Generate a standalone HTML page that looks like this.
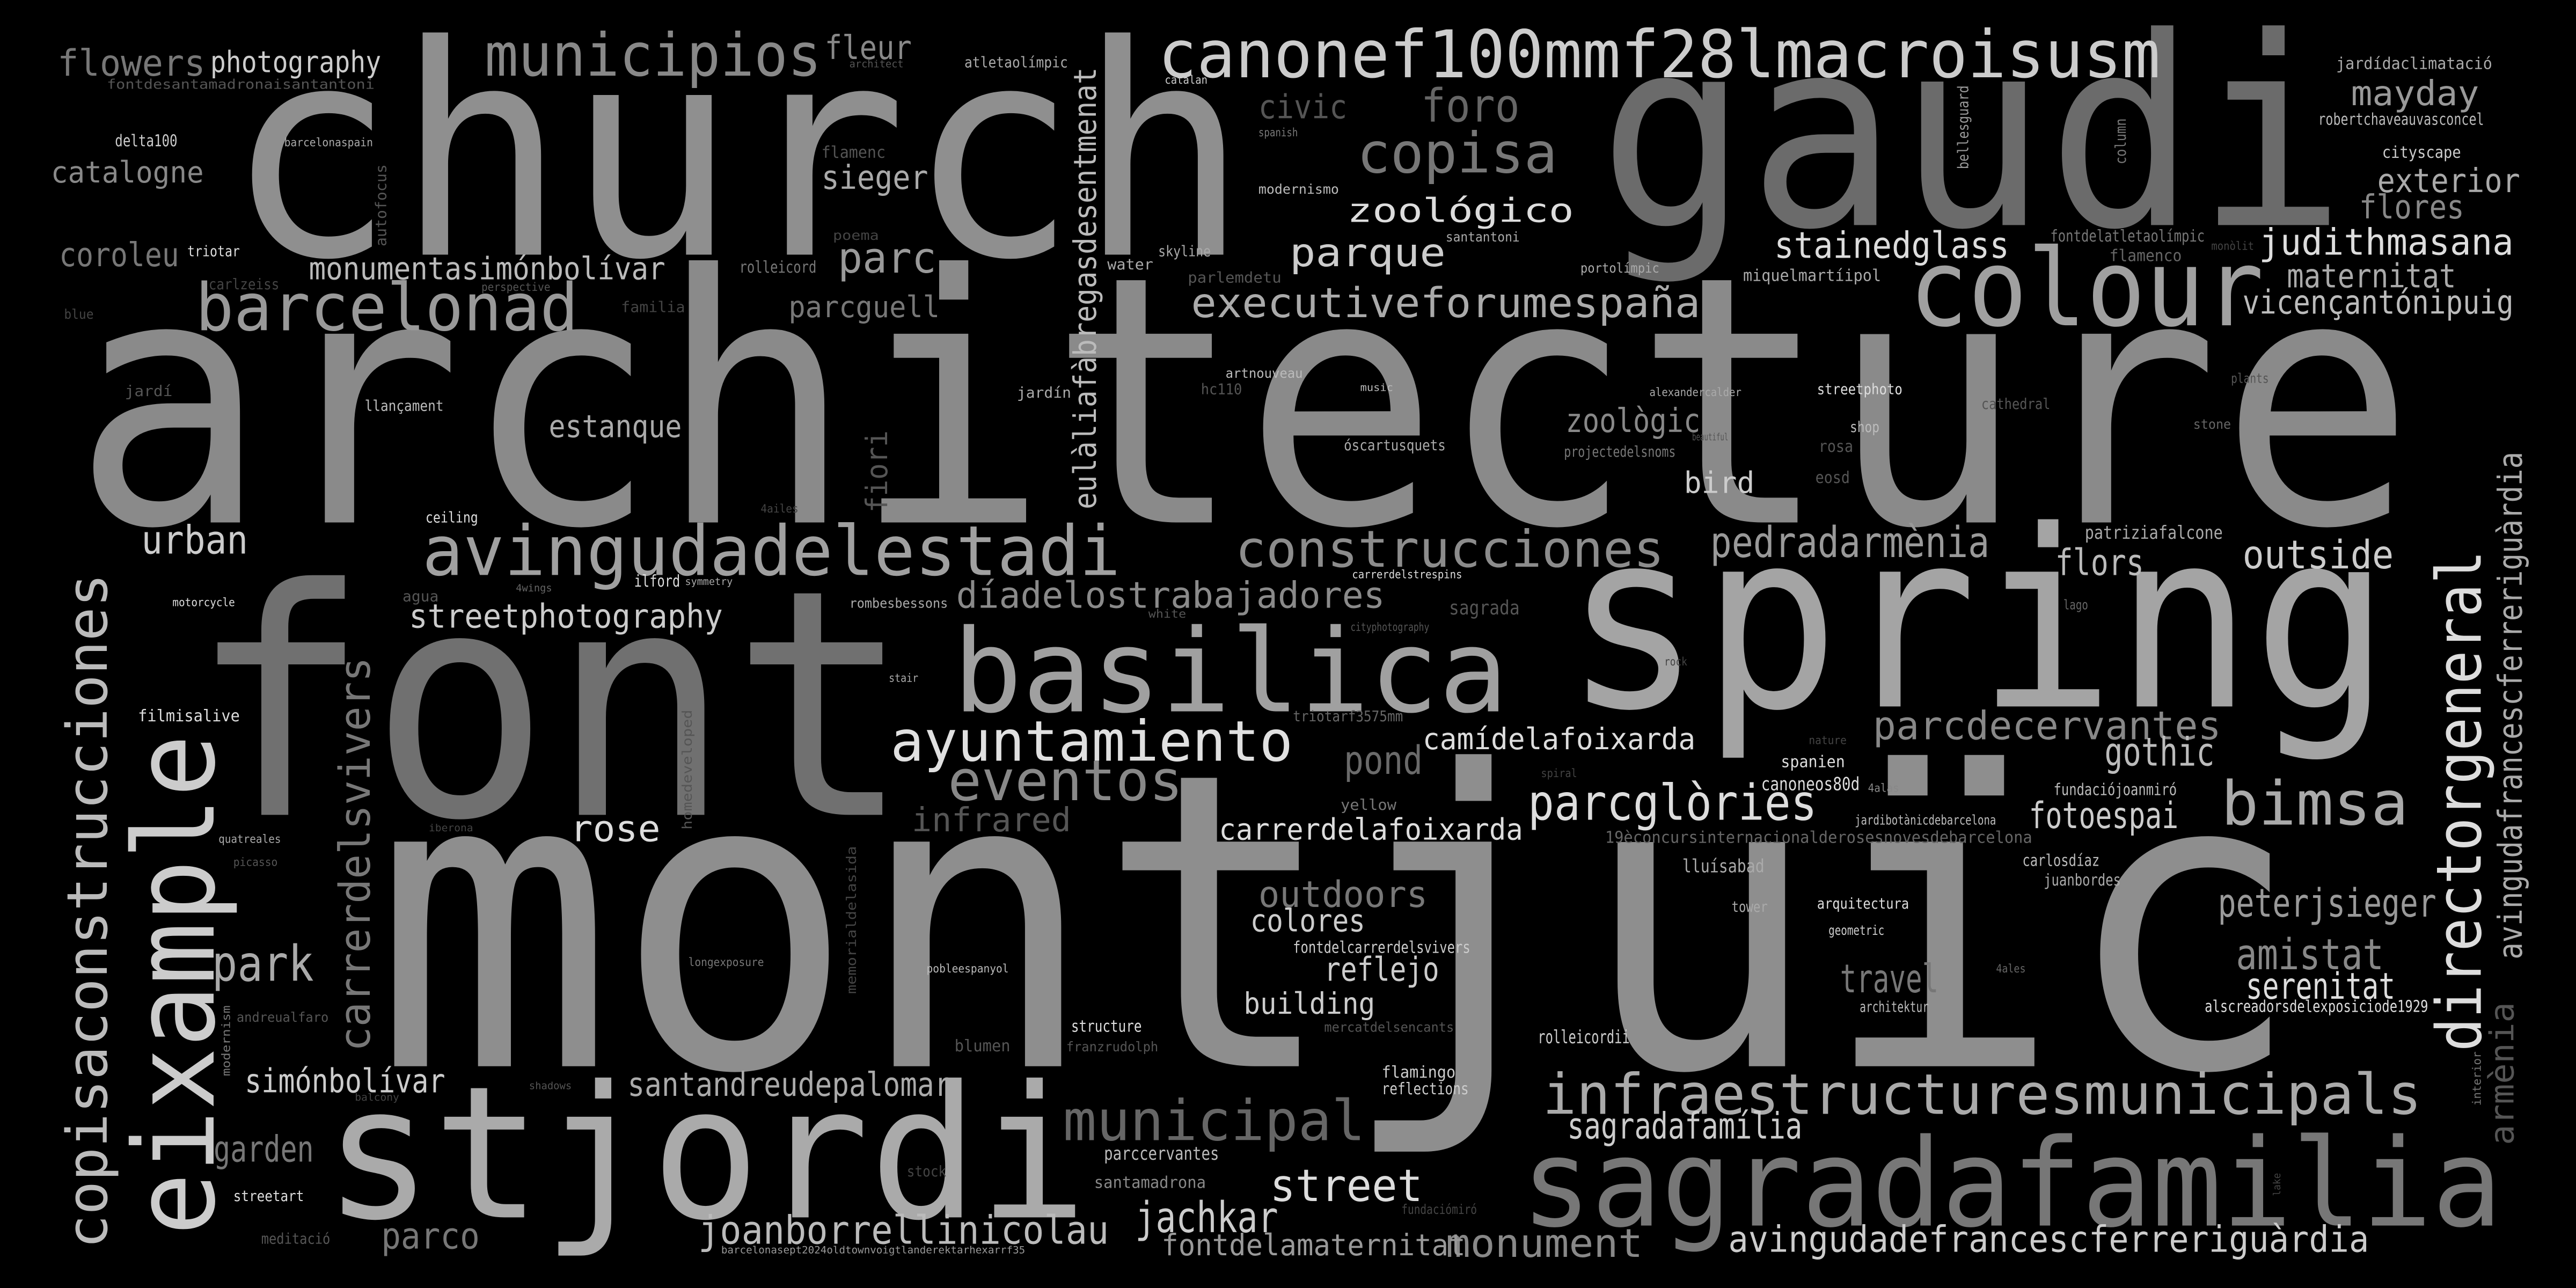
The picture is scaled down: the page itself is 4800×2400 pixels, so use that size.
<!DOCTYPE html>
<html><head><meta charset="utf-8"><style>
html,body{margin:0;padding:0;background:#000;}
svg{display:block;}
text{font-family:"DejaVu Sans Mono","Liberation Mono",monospace;}
</style></head><body>
<svg width="4800" height="2400" viewBox="0 0 1568 784" preserveAspectRatio="none" xmlns="http://www.w3.org/2000/svg">
<rect x="0" y="0" width="1568" height="784" fill="#000"/>
<g>
<text x="44" y="318" font-size="210" textLength="1426" lengthAdjust="spacingAndGlyphs" fill="#8a8a8a">architecture</text>
<text x="227" y="649" font-size="250" textLength="1175" lengthAdjust="spacingAndGlyphs" fill="#8e8e8e">montjuïc</text>
<text x="115" y="496" font-size="192" textLength="440" lengthAdjust="spacingAndGlyphs" fill="#707070">font</text>
<text x="137" y="155" font-size="178" textLength="623" lengthAdjust="spacingAndGlyphs" fill="#8f8f8f">church</text>
<text x="973" y="137" font-size="160" textLength="455" lengthAdjust="spacingAndGlyphs" fill="#6b6b6b">gaudi</text>
<text x="952" y="430" font-size="150" textLength="503" lengthAdjust="spacingAndGlyphs" fill="#a4a4a4">spring</text>
<text x="197" y="741" font-size="112" textLength="465" lengthAdjust="spacingAndGlyphs" fill="#aaaaaa">stjordi</text>
<text x="926" y="746" font-size="74" textLength="597" lengthAdjust="spacingAndGlyphs" fill="#777777">sagradafamilia</text>
<text x="580" y="433" font-size="70" textLength="338" lengthAdjust="spacingAndGlyphs" fill="#a0a0a0">basilica</text>
<text x="1162" y="198" font-size="65" textLength="216" lengthAdjust="spacingAndGlyphs" fill="#a0a0a0">colour</text>
<text x="705" y="47" font-size="40" textLength="610" lengthAdjust="spacingAndGlyphs" fill="#cccccc">canonef100mmf28lmacroisusm</text>
<text x="295" y="46" font-size="36" textLength="205" lengthAdjust="spacingAndGlyphs" fill="#888888">municipios</text>
<text x="119" y="201" font-size="40" textLength="233" lengthAdjust="spacingAndGlyphs" fill="#999999">barcelonad</text>
<text x="257" y="350" font-size="42" textLength="425" lengthAdjust="spacingAndGlyphs" fill="#a0a0a0">avingudadelestadi</text>
<text x="752" y="345" font-size="31" textLength="261" lengthAdjust="spacingAndGlyphs" fill="#8c8c8c">construcciones</text>
<text x="725" y="193" font-size="25" textLength="310" lengthAdjust="spacingAndGlyphs" fill="#aaaaaa">executiveforumespaña</text>
<text x="826" y="105" font-size="34" textLength="122" lengthAdjust="spacingAndGlyphs" fill="#777777">copisa</text>
<text x="865" y="74" font-size="28" textLength="60" lengthAdjust="spacingAndGlyphs" fill="#666666">foro</text>
<text x="766" y="72" font-size="20" textLength="54" lengthAdjust="spacingAndGlyphs" fill="#555555">civic</text>
<text x="820" y="135" font-size="20" textLength="138" lengthAdjust="spacingAndGlyphs" fill="#dddddd">zoológico</text>
<text x="785" y="162" font-size="24" textLength="95" lengthAdjust="spacingAndGlyphs" fill="#cccccc">parque</text>
<text x="766" y="83" font-size="7" textLength="24" lengthAdjust="spacingAndGlyphs" fill="#777777">spanish</text>
<text x="766" y="118" font-size="8" textLength="49" lengthAdjust="spacingAndGlyphs" fill="#bbbbbb">modernismo</text>
<text x="880" y="147" font-size="8" textLength="45" lengthAdjust="spacingAndGlyphs" fill="#aaaaaa">santantoni</text>
<text x="953" y="263" font-size="20" textLength="82" lengthAdjust="spacingAndGlyphs" fill="#888888">zoològic</text>
<text x="818" y="274" font-size="9" textLength="62" lengthAdjust="spacingAndGlyphs" fill="#aaaaaa">óscartusquets</text>
<text x="952" y="278" font-size="9" textLength="68" lengthAdjust="spacingAndGlyphs" fill="#777777">projectedelsnoms</text>
<text x="1030" y="268" font-size="6" textLength="22" lengthAdjust="spacingAndGlyphs" fill="#555555">beautiful</text>
<text x="828" y="238" font-size="6" textLength="20" lengthAdjust="spacingAndGlyphs" fill="#bbbbbb">music</text>
<text x="1004" y="241" font-size="7" textLength="56" lengthAdjust="spacingAndGlyphs" fill="#aaaaaa">alexandercalder</text>
<text x="1025" y="300" font-size="18" textLength="43" lengthAdjust="spacingAndGlyphs" fill="#cccccc">bird</text>
<text x="962" y="166" font-size="8" textLength="48" lengthAdjust="spacingAndGlyphs" fill="#aaaaaa">portolímpic</text>
<text x="1061" y="171" font-size="10" textLength="84" lengthAdjust="spacingAndGlyphs" fill="#aaaaaa">miquelmartíipol</text>
<text x="823" y="352" font-size="7" textLength="67" lengthAdjust="spacingAndGlyphs" fill="#dddddd">carrerdelstrespins</text>
<text x="882" y="374" font-size="12" textLength="43" lengthAdjust="spacingAndGlyphs" fill="#555555">sagrada</text>
<text x="822" y="384" font-size="7" textLength="48" lengthAdjust="spacingAndGlyphs" fill="#555555">cityphotography</text>

<text x="1422" y="42" font-size="10" textLength="95" lengthAdjust="spacingAndGlyphs" fill="#aaaaaa">jardídaclimatació</text>
<text x="1431" y="64" font-size="21" textLength="78" lengthAdjust="spacingAndGlyphs" fill="#999999">mayday</text>
<text x="1411" y="76" font-size="10" textLength="101" lengthAdjust="spacingAndGlyphs" fill="#bbbbbb">robertchaveauvasconcel</text>
<text x="1450" y="96" font-size="10" textLength="48" lengthAdjust="spacingAndGlyphs" fill="#cccccc">cityscape</text>
<text x="1447" y="117" font-size="20" textLength="87" lengthAdjust="spacingAndGlyphs" fill="#aaaaaa">exterior</text>
<text x="1436" y="133" font-size="20" textLength="64" lengthAdjust="spacingAndGlyphs" fill="#888888">flores</text>
<text x="1375" y="155" font-size="22" textLength="155" lengthAdjust="spacingAndGlyphs" fill="#dddddd">judithmasana</text>
<text x="1392" y="175" font-size="20" textLength="103" lengthAdjust="spacingAndGlyphs" fill="#aaaaaa">maternitat</text>
<text x="1365" y="191" font-size="20" textLength="165" lengthAdjust="spacingAndGlyphs" fill="#bbbbbb">vicençantónipuig</text>
<text x="1080" y="157" font-size="22" textLength="143" lengthAdjust="spacingAndGlyphs" fill="#dddddd">stainedglass</text>
<text x="1248" y="147" font-size="10" textLength="94" lengthAdjust="spacingAndGlyphs" fill="#777777">fontdelatletaolímpic</text>
<text x="1284" y="159" font-size="10" textLength="44" lengthAdjust="spacingAndGlyphs" fill="#666666">flamenco</text>
<text x="1346" y="152" font-size="7" textLength="26" lengthAdjust="spacingAndGlyphs" fill="#444444">monòlit</text>
<text transform="translate(1198,103) rotate(-90)" x="0" y="0" font-size="9" textLength="51" lengthAdjust="spacingAndGlyphs" fill="#999999">bellesguard</text>
<text transform="translate(1294,100) rotate(-90)" x="0" y="0" font-size="9" textLength="28" lengthAdjust="spacingAndGlyphs" fill="#777777">column</text>
<text x="1106" y="240" font-size="9" textLength="52" lengthAdjust="spacingAndGlyphs" fill="#dddddd">streetphoto</text>
<text x="1206" y="249" font-size="9" textLength="42" lengthAdjust="spacingAndGlyphs" fill="#555555">cathedral</text>
<text x="1126" y="263" font-size="9" textLength="18" lengthAdjust="spacingAndGlyphs" fill="#bbbbbb">shop</text>
<text x="1107" y="275" font-size="10" textLength="21" lengthAdjust="spacingAndGlyphs" fill="#555555">rosa</text>
<text x="1105" y="294" font-size="10" textLength="21" lengthAdjust="spacingAndGlyphs" fill="#555555">eosd</text>
<text x="1358" y="233" font-size="8" textLength="23" lengthAdjust="spacingAndGlyphs" fill="#555555">plants</text>
<text x="1335" y="261" font-size="8" textLength="23" lengthAdjust="spacingAndGlyphs" fill="#666666">stone</text>
<text x="1269" y="328" font-size="11" textLength="84" lengthAdjust="spacingAndGlyphs" fill="#aaaaaa">patriziafalcone</text>
<text x="1041" y="339" font-size="26" textLength="170" lengthAdjust="spacingAndGlyphs" fill="#999999">pedradarmènia</text>
<text x="1251" y="350" font-size="22" textLength="54" lengthAdjust="spacingAndGlyphs" fill="#bbbbbb">flors</text>
<text x="1365" y="346" font-size="24" textLength="92" lengthAdjust="spacingAndGlyphs" fill="#cccccc">outside</text>
<text x="1256" y="371" font-size="8" textLength="15" lengthAdjust="spacingAndGlyphs" fill="#666666">lago</text>
<text x="1013" y="405" font-size="7" textLength="14" lengthAdjust="spacingAndGlyphs" fill="#444444">rock</text>

<text transform="translate(1510,640) rotate(-90)" x="0" y="0" font-size="38" textLength="305" lengthAdjust="spacingAndGlyphs" fill="#dddddd">directorgeneral</text>
<text transform="translate(1535,584) rotate(-90)" x="0" y="0" font-size="20" textLength="309" lengthAdjust="spacingAndGlyphs" fill="#aaaaaa">avingudafrancescferreriguàrdia</text>
<text transform="translate(1530,697) rotate(-90)" x="0" y="0" font-size="20" textLength="87" lengthAdjust="spacingAndGlyphs" fill="#555555">armènia</text>
<text transform="translate(1510,673) rotate(-90)" x="0" y="0" font-size="7" textLength="33" lengthAdjust="spacingAndGlyphs" fill="#777777">interior</text>

<text x="1140" y="450" font-size="24" textLength="212" lengthAdjust="spacingAndGlyphs" fill="#888888">parcdecervantes</text>
<text x="1281" y="466" font-size="24" textLength="67" lengthAdjust="spacingAndGlyphs" fill="#bbbbbb">gothic</text>
<text x="866" y="456" font-size="18" textLength="166" lengthAdjust="spacingAndGlyphs" fill="#dddddd">camídelafoixarda</text>
<text x="1352" y="502" font-size="37" textLength="114" lengthAdjust="spacingAndGlyphs" fill="#aaaaaa">bimsa</text>
<text x="930" y="499" font-size="30" textLength="176" lengthAdjust="spacingAndGlyphs" fill="#dddddd">parcglòries</text>
<text x="1084" y="467" font-size="10" textLength="39" lengthAdjust="spacingAndGlyphs" fill="#dddddd">spanien</text>
<text x="1101" y="453" font-size="7" textLength="23" lengthAdjust="spacingAndGlyphs" fill="#444444">nature</text>
<text x="938" y="473" font-size="7" textLength="22" lengthAdjust="spacingAndGlyphs" fill="#444444">spiral</text>
<text x="1072" y="481" font-size="11" textLength="60" lengthAdjust="spacingAndGlyphs" fill="#dddddd">canoneos80d</text>
<text x="1137" y="482" font-size="7" textLength="19" lengthAdjust="spacingAndGlyphs" fill="#888888">4alas</text>
<text x="1250" y="484" font-size="10" textLength="75" lengthAdjust="spacingAndGlyphs" fill="#bbbbbb">fundaciójoanmiró</text>
<text x="1129" y="502" font-size="8" textLength="86" lengthAdjust="spacingAndGlyphs" fill="#bbbbbb">jardibotànicdebarcelona</text>
<text x="1235" y="504" font-size="22" textLength="91" lengthAdjust="spacingAndGlyphs" fill="#cccccc">fotoespai</text>
<text x="977" y="513" font-size="10" textLength="260" lengthAdjust="spacingAndGlyphs" fill="#666666">19èconcursinternacionalderosesnovesdebarcelona</text>
<text x="1024" y="531" font-size="11" textLength="50" lengthAdjust="spacingAndGlyphs" fill="#aaaaaa">lluísabad</text>
<text x="1231" y="527" font-size="10" textLength="47" lengthAdjust="spacingAndGlyphs" fill="#bbbbbb">carlosdíaz</text>
<text x="1244" y="539" font-size="10" textLength="47" lengthAdjust="spacingAndGlyphs" fill="#aaaaaa">juanbordes</text>
<text x="1054" y="555" font-size="9" textLength="22" lengthAdjust="spacingAndGlyphs" fill="#aaaaaa">tower</text>
<text x="1106" y="553" font-size="9" textLength="56" lengthAdjust="spacingAndGlyphs" fill="#dddddd">arquitectura</text>
<text x="1113" y="569" font-size="8" textLength="34" lengthAdjust="spacingAndGlyphs" fill="#cccccc">geometric</text>
<text x="1350" y="558" font-size="24" textLength="133" lengthAdjust="spacingAndGlyphs" fill="#999999">peterjsieger</text>
<text x="1361" y="590" font-size="26" textLength="90" lengthAdjust="spacingAndGlyphs" fill="#888888">amistat</text>
<text x="1215" y="592" font-size="7" textLength="18" lengthAdjust="spacingAndGlyphs" fill="#666666">4ales</text>
<text x="1120" y="604" font-size="24" textLength="60" lengthAdjust="spacingAndGlyphs" fill="#777777">travel</text>
<text x="1367" y="608" font-size="22" textLength="91" lengthAdjust="spacingAndGlyphs" fill="#dddddd">serenitat</text>
<text x="1342" y="616" font-size="10" textLength="136" lengthAdjust="spacingAndGlyphs" fill="#dddddd">alscreadorsdelexposiciode1929</text>
<text x="1132" y="616" font-size="9" textLength="42" lengthAdjust="spacingAndGlyphs" fill="#bbbbbb">architektur</text>
<text x="936" y="635" font-size="11" textLength="56" lengthAdjust="spacingAndGlyphs" fill="#cccccc">rolleicordii</text>
<text x="939" y="678" font-size="34" textLength="535" lengthAdjust="spacingAndGlyphs" fill="#aaaaaa">infraestructuresmunicipals</text>
<text x="954" y="693" font-size="22" textLength="143" lengthAdjust="spacingAndGlyphs" fill="#cccccc">sagradafamília</text>
<text x="1052" y="762" font-size="22" textLength="390" lengthAdjust="spacingAndGlyphs" fill="#cccccc">avingudadefrancescferreriguàrdia</text>
<text x="880" y="765" font-size="24" textLength="120" lengthAdjust="spacingAndGlyphs" fill="#888888">monument</text>
<text transform="translate(1388,728) rotate(-90)" x="0" y="0" font-size="6" textLength="14" lengthAdjust="spacingAndGlyphs" fill="#444444">lake</text>

<text x="787" y="439" font-size="9" textLength="67" lengthAdjust="spacingAndGlyphs" fill="#666666">triotarf3575mm</text>
<text x="542" y="463" font-size="34" textLength="245" lengthAdjust="spacingAndGlyphs" fill="#e0e0e0">ayuntamiento</text>
<text x="577" y="487" font-size="34" textLength="143" lengthAdjust="spacingAndGlyphs" fill="#888888">eventos</text>
<text x="555" y="506" font-size="20" textLength="97" lengthAdjust="spacingAndGlyphs" fill="#555555">infrared</text>
<text x="818" y="471" font-size="24" textLength="48" lengthAdjust="spacingAndGlyphs" fill="#6a6a6a">pond</text>
<text x="816" y="493" font-size="9" textLength="34" lengthAdjust="spacingAndGlyphs" fill="#777777">yellow</text>
<text x="742" y="511" font-size="18" textLength="185" lengthAdjust="spacingAndGlyphs" fill="#dddddd">carrerdelafoixarda</text>
<text x="766" y="552" font-size="22" textLength="103" lengthAdjust="spacingAndGlyphs" fill="#777777">outdoors</text>
<text x="761" y="567" font-size="19" textLength="70" lengthAdjust="spacingAndGlyphs" fill="#cccccc">colores</text>
<text x="787" y="580" font-size="10" textLength="108" lengthAdjust="spacingAndGlyphs" fill="#cccccc">fontdelcarrerdelsvivers</text>
<text x="806" y="597" font-size="20" textLength="70" lengthAdjust="spacingAndGlyphs" fill="#cccccc">reflejo</text>
<text x="757" y="617" font-size="18" textLength="80" lengthAdjust="spacingAndGlyphs" fill="#cccccc">building</text>
<text x="652" y="628" font-size="10" textLength="43" lengthAdjust="spacingAndGlyphs" fill="#dddddd">structure</text>
<text x="806" y="628" font-size="8" textLength="79" lengthAdjust="spacingAndGlyphs" fill="#555555">mercatdelsencants</text>
<text x="649" y="640" font-size="8" textLength="56" lengthAdjust="spacingAndGlyphs" fill="#555555">franzrudolph</text>
<text x="841" y="656" font-size="10" textLength="45" lengthAdjust="spacingAndGlyphs" fill="#cccccc">flamingo</text>
<text x="841" y="666" font-size="10" textLength="53" lengthAdjust="spacingAndGlyphs" fill="#cccccc">reflections</text>
<text x="647" y="694" font-size="34" textLength="184" lengthAdjust="spacingAndGlyphs" fill="#666666">municipal</text>
<text x="672" y="706" font-size="11" textLength="70" lengthAdjust="spacingAndGlyphs" fill="#bbbbbb">parccervantes</text>
<text x="666" y="723" font-size="10" textLength="68" lengthAdjust="spacingAndGlyphs" fill="#888888">santamadrona</text>
<text x="773" y="731" font-size="27" textLength="93" lengthAdjust="spacingAndGlyphs" fill="#dddddd">street</text>
<text x="853" y="739" font-size="8" textLength="46" lengthAdjust="spacingAndGlyphs" fill="#444444">fundaciómiró</text>
<text x="691" y="750" font-size="26" textLength="87" lengthAdjust="spacingAndGlyphs" fill="#cccccc">jachkar</text>
<text x="707" y="764" font-size="18" textLength="185" lengthAdjust="spacingAndGlyphs" fill="#999999">fontdelamaternitat</text>
<text x="425" y="757" font-size="24" textLength="250" lengthAdjust="spacingAndGlyphs" fill="#bbbbbb">joanborrellinicolau</text>
<text x="439" y="763" font-size="6" textLength="185" lengthAdjust="spacingAndGlyphs" fill="#999999">barcelonasept2024oldtownvoigtlanderektarhexarrf35</text>

<text x="35" y="46" font-size="22" textLength="90" lengthAdjust="spacingAndGlyphs" fill="#777777">flowers</text>
<text x="128" y="44" font-size="18" textLength="104" lengthAdjust="spacingAndGlyphs" fill="#cccccc">photography</text>
<text x="65" y="54" font-size="8" textLength="163" lengthAdjust="spacingAndGlyphs" fill="#555555">fontdesantamadronaisantantoni</text>
<text x="502" y="36" font-size="20" textLength="53" lengthAdjust="spacingAndGlyphs" fill="#888888">fleur</text>
<text x="517" y="41" font-size="6" textLength="33" lengthAdjust="spacingAndGlyphs" fill="#555555">architect</text>
<text x="587" y="41" font-size="9" textLength="63" lengthAdjust="spacingAndGlyphs" fill="#aaaaaa">atletaolímpic</text>
<text x="709" y="51" font-size="7" textLength="26" lengthAdjust="spacingAndGlyphs" fill="#cccccc">catalan</text>
<text x="70" y="89" font-size="10" textLength="38" lengthAdjust="spacingAndGlyphs" fill="#cccccc">delta100</text>
<text x="173" y="89" font-size="7" textLength="54" lengthAdjust="spacingAndGlyphs" fill="#aaaaaa">barcelonaspain</text>
<text x="31" y="111" font-size="18" textLength="93" lengthAdjust="spacingAndGlyphs" fill="#888888">catalogne</text>
<text transform="translate(235,150) rotate(-90)" x="0" y="0" font-size="9" textLength="50" lengthAdjust="spacingAndGlyphs" fill="#555555">autofocus</text>
<text x="500" y="96" font-size="10" textLength="39" lengthAdjust="spacingAndGlyphs" fill="#555555">flamenc</text>
<text x="500" y="115" font-size="20" textLength="65" lengthAdjust="spacingAndGlyphs" fill="#aaaaaa">sieger</text>
<text x="36" y="162" font-size="20" textLength="73" lengthAdjust="spacingAndGlyphs" fill="#777777">coroleu</text>
<text x="114" y="156" font-size="9" textLength="32" lengthAdjust="spacingAndGlyphs" fill="#dddddd">triotar</text>
<text x="188" y="170" font-size="19" textLength="217" lengthAdjust="spacingAndGlyphs" fill="#bbbbbb">monumentasimónbolívar</text>
<text x="507" y="146" font-size="8" textLength="28" lengthAdjust="spacingAndGlyphs" fill="#444444">poema</text>
<text x="510" y="166" font-size="26" textLength="60" lengthAdjust="spacingAndGlyphs" fill="#999999">parc</text>
<text x="450" y="166" font-size="10" textLength="47" lengthAdjust="spacingAndGlyphs" fill="#777777">rolleicord</text>
<text x="674" y="164" font-size="9" textLength="28" lengthAdjust="spacingAndGlyphs" fill="#aaaaaa">water</text>
<text x="705" y="156" font-size="9" textLength="32" lengthAdjust="spacingAndGlyphs" fill="#aaaaaa">skyline</text>
<text x="127" y="176" font-size="9" textLength="43" lengthAdjust="spacingAndGlyphs" fill="#444444">carlzeiss</text>
<text x="293" y="177" font-size="7" textLength="42" lengthAdjust="spacingAndGlyphs" fill="#555555">perspective</text>
<text x="723" y="172" font-size="9" textLength="57" lengthAdjust="spacingAndGlyphs" fill="#555555">parlemdetu</text>
<text x="378" y="190" font-size="9" textLength="39" lengthAdjust="spacingAndGlyphs" fill="#444444">familia</text>
<text x="480" y="193" font-size="18" textLength="92" lengthAdjust="spacingAndGlyphs" fill="#777777">parcguell</text>
<text x="39" y="194" font-size="8" textLength="18" lengthAdjust="spacingAndGlyphs" fill="#444444">blue</text>
<text x="746" y="230" font-size="8" textLength="47" lengthAdjust="spacingAndGlyphs" fill="#bbbbbb">artnouveau</text>
<text x="731" y="240" font-size="9" textLength="25" lengthAdjust="spacingAndGlyphs" fill="#555555">hc110</text>
<text x="76" y="241" font-size="9" textLength="29" lengthAdjust="spacingAndGlyphs" fill="#555555">jardí</text>
<text x="222" y="250" font-size="9" textLength="48" lengthAdjust="spacingAndGlyphs" fill="#bbbbbb">llançament</text>
<text x="619" y="242" font-size="9" textLength="33" lengthAdjust="spacingAndGlyphs" fill="#aaaaaa">jardín</text>
<text x="334" y="266" font-size="19" textLength="81" lengthAdjust="spacingAndGlyphs" fill="#aaaaaa">estanque</text>
<text transform="translate(540,312) rotate(-90)" x="0" y="0" font-size="18" textLength="50" lengthAdjust="spacingAndGlyphs" fill="#555555">fiori</text>
<text transform="translate(667,310) rotate(-90)" x="0" y="0" font-size="19" textLength="269" lengthAdjust="spacingAndGlyphs" fill="#bbbbbb">eulàliafàbregasdesentmenat</text>
<text x="463" y="312" font-size="7" textLength="23" lengthAdjust="spacingAndGlyphs" fill="#444444">4ailes</text>
<text x="259" y="318" font-size="9" textLength="32" lengthAdjust="spacingAndGlyphs" fill="#dddddd">ceiling</text>
<text x="86" y="337" font-size="24" textLength="65" lengthAdjust="spacingAndGlyphs" fill="#cccccc">urban</text>
<text x="245" y="366" font-size="9" textLength="22" lengthAdjust="spacingAndGlyphs" fill="#555555">agua</text>
<text x="314" y="360" font-size="6" textLength="22" lengthAdjust="spacingAndGlyphs" fill="#666666">4wings</text>
<text x="386" y="357" font-size="10" textLength="28" lengthAdjust="spacingAndGlyphs" fill="#dddddd">ilford</text>
<text x="417" y="356" font-size="6" textLength="29" lengthAdjust="spacingAndGlyphs" fill="#aaaaaa">symmetry</text>
<text x="105" y="369" font-size="7" textLength="38" lengthAdjust="spacingAndGlyphs" fill="#dddddd">motorcycle</text>
<text x="517" y="370" font-size="8" textLength="60" lengthAdjust="spacingAndGlyphs" fill="#aaaaaa">rombesbessons</text>
<text x="582" y="370" font-size="22" textLength="261" lengthAdjust="spacingAndGlyphs" fill="#8a8a8a">díadelostrabajadores</text>
<text x="699" y="376" font-size="7" textLength="23" lengthAdjust="spacingAndGlyphs" fill="#555555">white</text>
<text x="249" y="382" font-size="20" textLength="191" lengthAdjust="spacingAndGlyphs" fill="#cccccc">streetphotography</text>
<text x="541" y="415" font-size="7" textLength="18" lengthAdjust="spacingAndGlyphs" fill="#aaaaaa">stair</text>
<text x="84" y="439" font-size="10" textLength="62" lengthAdjust="spacingAndGlyphs" fill="#dddddd">filmisalive</text>

<text transform="translate(65,760) rotate(-90)" x="0" y="0" font-size="34" textLength="411" lengthAdjust="spacingAndGlyphs" fill="#bbbbbb">copisaconstrucciones</text>
<text transform="translate(130,752) rotate(-90)" x="0" y="0" font-size="68" textLength="305" lengthAdjust="spacingAndGlyphs" fill="#cccccc">eixample</text>
<text transform="translate(225,640) rotate(-90)" x="0" y="0" font-size="26" textLength="240" lengthAdjust="spacingAndGlyphs" fill="#777777">carrerdelsvivers</text>
<text transform="translate(421,505) rotate(-90)" x="0" y="0" font-size="8" textLength="73" lengthAdjust="spacingAndGlyphs" fill="#555555">homedeveloped</text>
<text transform="translate(521,605) rotate(-90)" x="0" y="0" font-size="8" textLength="90" lengthAdjust="spacingAndGlyphs" fill="#444444">memorialdelasida</text>
<text transform="translate(140,655) rotate(-90)" x="0" y="0" font-size="7" textLength="43" lengthAdjust="spacingAndGlyphs" fill="#777777">modernism</text>
<text x="347" y="512" font-size="22" textLength="55" lengthAdjust="spacingAndGlyphs" fill="#dddddd">rose</text>
<text x="261" y="506" font-size="6" textLength="27" lengthAdjust="spacingAndGlyphs" fill="#444444">iberona</text>
<text x="133" y="513" font-size="7" textLength="38" lengthAdjust="spacingAndGlyphs" fill="#aaaaaa">quatreales</text>
<text x="142" y="527" font-size="7" textLength="27" lengthAdjust="spacingAndGlyphs" fill="#555555">picasso</text>
<text x="129" y="597" font-size="30" textLength="62" lengthAdjust="spacingAndGlyphs" fill="#aaaaaa">park</text>
<text x="419" y="588" font-size="7" textLength="46" lengthAdjust="spacingAndGlyphs" fill="#777777">longexposure</text>
<text x="564" y="592" font-size="7" textLength="50" lengthAdjust="spacingAndGlyphs" fill="#bbbbbb">pobleespanyol</text>
<text x="144" y="622" font-size="8" textLength="56" lengthAdjust="spacingAndGlyphs" fill="#555555">andreualfaro</text>
<text x="581" y="640" font-size="10" textLength="34" lengthAdjust="spacingAndGlyphs" fill="#555555">blumen</text>
<text x="149" y="665" font-size="20" textLength="122" lengthAdjust="spacingAndGlyphs" fill="#cccccc">simónbolívar</text>
<text x="322" y="663" font-size="6" textLength="26" lengthAdjust="spacingAndGlyphs" fill="#555555">shadows</text>
<text x="216" y="670" font-size="6" textLength="27" lengthAdjust="spacingAndGlyphs" fill="#444444">balcony</text>
<text x="382" y="667" font-size="20" textLength="197" lengthAdjust="spacingAndGlyphs" fill="#aaaaaa">santandreudepalomar</text>
<text x="130" y="707" font-size="22" textLength="61" lengthAdjust="spacingAndGlyphs" fill="#777777">garden</text>
<text x="552" y="716" font-size="9" textLength="24" lengthAdjust="spacingAndGlyphs" fill="#444444">stock</text>
<text x="142" y="731" font-size="9" textLength="43" lengthAdjust="spacingAndGlyphs" fill="#dddddd">streetart</text>
<text x="159" y="757" font-size="9" textLength="42" lengthAdjust="spacingAndGlyphs" fill="#555555">meditació</text>
<text x="232" y="760" font-size="22" textLength="60" lengthAdjust="spacingAndGlyphs" fill="#777777">parco</text>
</g>
</svg>
</body></html>
